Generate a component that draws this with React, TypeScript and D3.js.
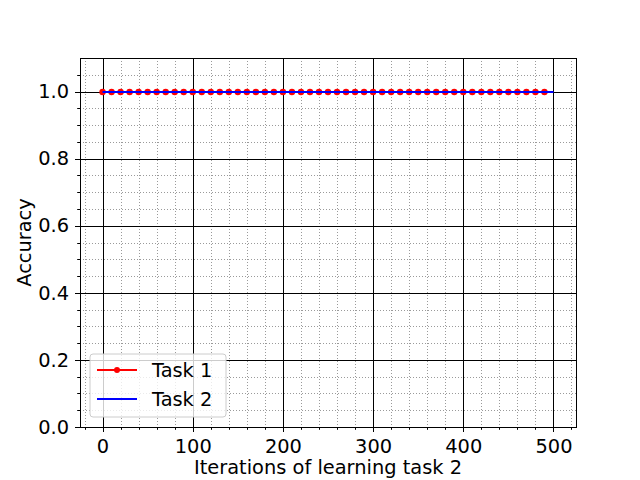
import React, { useEffect, useRef } from 'react';
import * as d3 from 'd3';

const task1Iterations = [
  0, 10, 20, 30, 40, 50, 60, 70, 80, 90,
  100, 110, 120, 130, 140, 150, 160, 170, 180, 190,
  200, 210, 220, 230, 240, 250, 260, 270, 280, 290,
  300, 310, 320, 330, 340, 350, 360, 370, 380, 390,
  400, 410, 420, 430, 440, 450, 460, 470, 480, 490,
];
const task1Accuracy = [
  1, 1, 1, 1, 1, 1, 1, 1, 1, 1,
  1, 1, 1, 1, 1, 1, 1, 1, 1, 1,
  1, 1, 1, 1, 1, 1, 1, 1, 1, 1,
  1, 1, 1, 1, 1, 1, 1, 1, 1, 1,
  1, 1, 1, 1, 1, 1, 1, 1, 1, 1,
];
const task2Iterations = [0, 100, 200, 300, 400, 500];
const task2Accuracy = [1, 1, 1, 1, 1, 1];

const xTicks = [0, 100, 200, 300, 400, 500];
const xMinorTicks = [-20, 20, 40, 60, 80, 120, 140, 160, 180, 220, 240, 260, 280, 320, 340, 360, 380, 420, 440, 460, 480, 520];
const yTicks = [0, 0.2, 0.4, 0.6, 0.8, 1.0];
const yMinorTicks = [0.05, 0.1, 0.15, 0.25, 0.3, 0.35, 0.45, 0.5, 0.55, 0.65, 0.7, 0.75, 0.85, 0.9, 0.95, 1.05];

const FONT = 'DejaVu Sans, sans-serif';
const FS = '19.4px';

export default function App() {
  const svgRef = useRef<SVGSVGElement>(null);
  const width = 640;
  const height = 480;

  useEffect(() => {
    if (!svgRef.current) return;
    const svg = d3.select(svgRef.current);
    svg.selectAll('*').remove();

    const margin = { top: 58, right: 64, bottom: 53, left: 80 };
    const innerWidth = width - margin.left - margin.right;
    const innerHeight = height - margin.top - margin.bottom;

    const x = d3.scaleLinear().domain([-25, 525]).range([0, innerWidth]);
    const y = d3.scaleLinear().domain([0, 1.1]).range([innerHeight, 0]);

    svg.append('rect').attr('width', width).attr('height', height).attr('fill', '#fff');

    const g = svg.append('g').attr('transform', `translate(${margin.left},${margin.top})`);
    const px = (v: number) => Math.round(v) + 0.5;

    // minor grid
    g.append('g').selectAll('line').data(xMinorTicks).join('line')
      .attr('x1', d => px(x(d))).attr('x2', d => px(x(d)))
      .attr('y1', 0).attr('y2', innerHeight)
      .attr('stroke', '#808080').attr('stroke-width', 0.8).attr('stroke-dasharray', '1,2');
    g.append('g').selectAll('line').data(yMinorTicks).join('line')
      .attr('x1', 0).attr('x2', innerWidth)
      .attr('y1', d => px(y(d))).attr('y2', d => px(y(d)))
      .attr('stroke', '#808080').attr('stroke-width', 0.8).attr('stroke-dasharray', '1,2');

    // major grid
    g.append('g').selectAll('line').data(xTicks).join('line')
      .attr('x1', d => px(x(d))).attr('x2', d => px(x(d)))
      .attr('y1', 0).attr('y2', innerHeight)
      .attr('stroke', '#000').attr('stroke-width', 1);
    g.append('g').selectAll('line').data(yTicks).join('line')
      .attr('x1', 0).attr('x2', innerWidth)
      .attr('y1', d => px(y(d))).attr('y2', d => px(y(d)))
      .attr('stroke', '#000').attr('stroke-width', 1);

    // series
    const line = d3.line<[number, number]>().x(d => x(d[0])).y(d => Math.round(y(d[1])));
    const s1 = task1Iterations.map((v, i) => [v, task1Accuracy[i]] as [number, number]);
    const s2 = task2Iterations.map((v, i) => [v, task2Accuracy[i]] as [number, number]);

    g.append('path').datum(s1).attr('d', line).attr('fill', 'none')
      .attr('stroke', 'red').attr('stroke-width', 2);
    g.append('g').selectAll('circle').data(s1).join('circle')
      .attr('cx', d => x(d[0])).attr('cy', d => Math.round(y(d[1]))).attr('r', 3.2).attr('fill', 'red');
    g.append('path').datum(s2).attr('d', line).attr('fill', 'none')
      .attr('stroke', 'blue').attr('stroke-width', 2);

    // axes
    const xAxis = g.append('g').attr('transform', `translate(0,${innerHeight})`)
      .call(d3.axisBottom(x).tickValues(xTicks).tickSize(4.9).tickPadding(7).tickFormat(d3.format('d')));
    xAxis.append('g').selectAll('line').data(xMinorTicks).join('line')
      .attr('x1', d => px(x(d))).attr('x2', d => px(x(d))).attr('y1', 0).attr('y2', 2.8)
      .attr('stroke', '#000');
    const yAxis = g.append('g')
      .call(d3.axisLeft(y).tickValues(yTicks).tickSize(4.9).tickPadding(6).tickFormat(d3.format('.1f')));
    yAxis.append('g').selectAll('line').data(yMinorTicks).join('line')
      .attr('x1', 0).attr('x2', -2.8).attr('y1', d => px(y(d))).attr('y2', d => px(y(d)))
      .attr('stroke', '#000');

    [xAxis, yAxis].forEach(a => {
      a.select('.domain').remove();
      a.selectAll('.tick line').attr('stroke', '#000').attr('shape-rendering', 'crispEdges');
      a.selectAll('.tick text').attr('font-family', FONT).attr('font-size', FS).attr('fill', '#000');
    });

    g.append('rect').attr('x', 0.5).attr('y', 0.5).attr('width', innerWidth).attr('height', innerHeight)
      .attr('fill', 'none').attr('stroke', '#000').attr('stroke-width', 1);

    // labels
    g.append('text').attr('x', innerWidth / 2).attr('y', innerHeight + 47)
      .attr('text-anchor', 'middle').attr('font-family', FONT).attr('font-size', FS)
      .text('Iterations of learning task 2');
    g.append('text').attr('transform', `translate(${-49},${innerHeight / 2}) rotate(-90)`)
      .attr('text-anchor', 'middle').attr('font-family', FONT).attr('font-size', FS)
      .text('Accuracy');

    // legend
    const lg = g.append('g').attr('transform', `translate(10,${innerHeight - 73})`);
    lg.append('rect').attr('width', 136).attr('height', 63).attr('rx', 3)
      .attr('fill', 'rgba(255,255,255,0.8)').attr('stroke', '#ccc');
    const items = [
      { label: 'Task 1', color: 'red', marker: true },
      { label: 'Task 2', color: 'blue', marker: false },
    ];
    items.forEach((it, i) => {
      const yy = 16 + i * 29;
      lg.append('line').attr('x1', 7).attr('x2', 47).attr('y1', yy).attr('y2', yy)
        .attr('stroke', it.color).attr('stroke-width', 2);
      if (it.marker) lg.append('circle').attr('cx', 27).attr('cy', yy).attr('r', 3).attr('fill', it.color);
      lg.append('text').attr('x', 62).attr('y', yy + 7)
        .attr('font-family', FONT).attr('font-size', FS).text(it.label);
    });
  }, []);

  return (
    <svg
      ref={svgRef}
      width={width}
      height={height}
      style={{ position: 'absolute', left: 0, top: 0, display: 'block' }}
    />
  );
}
